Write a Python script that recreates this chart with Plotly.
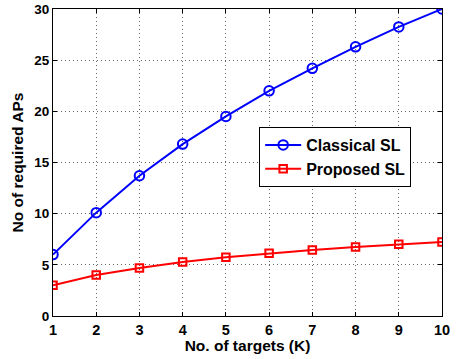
import plotly.graph_objects as go

targets = [1, 2, 3, 4, 5, 6, 7, 8, 9, 10]
classical_sl = [6.0, 10.1, 13.7, 16.8, 19.5, 22.0, 24.2, 26.3, 28.25, 30.0]
proposed_sl = [3.0, 4.0, 4.7, 5.27, 5.73, 6.12, 6.44, 6.74, 7.0, 7.23]
y_ticks = [0, 5, 10, 15, 20, 25, 30]

FONT = "Liberation Sans"

fig = go.Figure()
fig.add_trace(go.Scatter(
    x=targets, y=classical_sl, name="<b>Classical SL</b>", mode="lines+markers",
    line=dict(color="#0000ff", width=2),
    marker=dict(symbol="circle-open", size=9.5, color="#0000ff", line=dict(width=2)),
))
fig.add_trace(go.Scatter(
    x=targets, y=proposed_sl, name="<b>Proposed SL</b>", mode="lines+markers",
    line=dict(color="#ff0000", width=2),
    marker=dict(symbol="square-open", size=7.5, color="#ff0000", line=dict(width=2)),
))

axis_common = dict(
    showline=True, linecolor="black", linewidth=1.2, mirror="ticks",
    ticks="inside", ticklen=4, tickcolor="black",
    showgrid=True, gridcolor="#666666", griddash="1px,3px", gridwidth=1,
    zeroline=False, automargin=False,
)

fig.update_xaxes(range=[1, 10], tickvals=targets, ticktext=[f"<b>{t}</b>" for t in targets],
                 tickfont=dict(family=FONT, size=14.5, color="black"),
                 **axis_common,
                 title=dict(text="<b>No. of targets (K)</b>", standoff=3,
                            font=dict(family=FONT, size=15.5, color="black")))
fig.update_yaxes(range=[0, 30], tickvals=y_ticks, ticktext=[f"<b>{t}</b>" for t in y_ticks],
                 tickfont=dict(family=FONT, size=13.5, color="black"),
                 **axis_common,
                 title=dict(text="<b>No of required APs</b>", standoff=6,
                            font=dict(family=FONT, size=15.5, color="black")))

fig.update_layout(
    width=457, height=359,
    margin=dict(l=53, r=15, t=9, b=43, autoexpand=False),
    paper_bgcolor="white", plot_bgcolor="white",
    legend=dict(x=0.53, y=0.6156, xanchor="left", yanchor="top",
                bordercolor="black", borderwidth=1, bgcolor="white",
                font=dict(family=FONT, size=16, color="black"),
                itemwidth=36, tracegroupgap=0),
    showlegend=True,
)

fig.write_html("out.html", config={"displayModeBar": False},
               post_script="document.body.style.margin='0';")
